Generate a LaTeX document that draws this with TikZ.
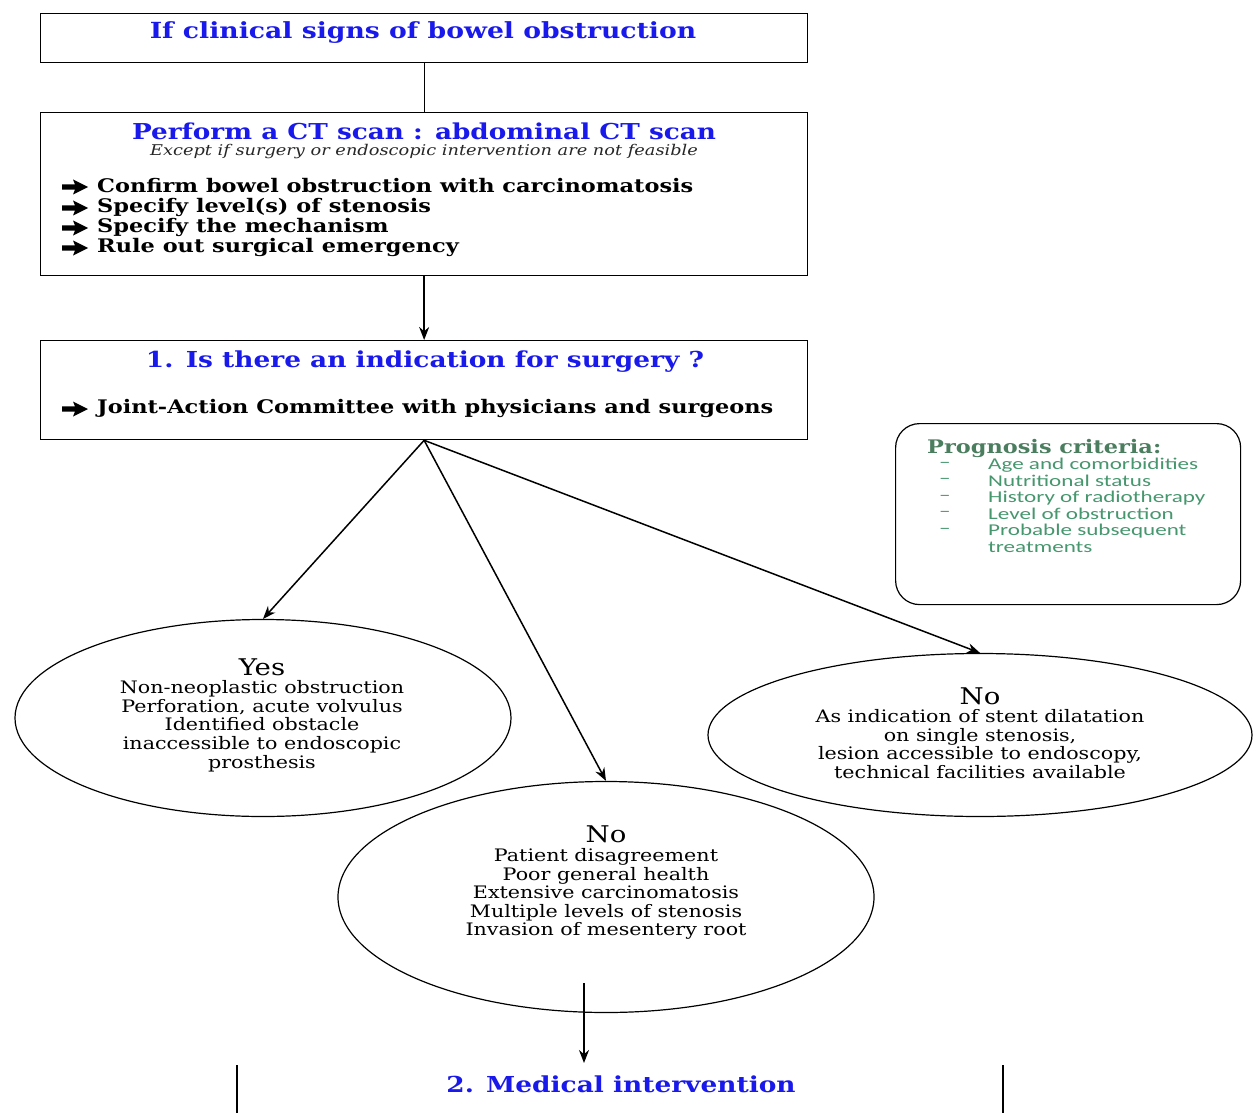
\documentclass[tikz,border=0pt]{standalone}
\usepackage{fontspec}
\setmainfont{DejaVu Serif}[FakeStretch=1.2]
\newfontfamily\critfont{Carlito}[FakeStretch=1.4]
\usetikzlibrary{shapes.geometric,arrows.meta}
\definecolor{titleblue}{RGB}{25,25,235}
\definecolor{critgreen}{RGB}{70,150,110}
\definecolor{critdark}{RGB}{75,125,95}
\newcommand\fsz[1]{\fontsize{#1}{#1}\selectfont}
\begin{document}
\begin{tikzpicture}[x=1pt,y=-1pt,
  framebox/.style={draw,line width=1.3pt,minimum width=767pt,anchor=north west,inner sep=0pt},
  oval/.style={draw,ellipse,line width=1.2pt,inner sep=0pt},
  heading/.style={text=titleblue,font=\bfseries\fsz{22}},
  item/.style={anchor=west,font=\bfseries\fsz{18.7},inner sep=0pt},
  ovaltext/.style={align=center,font=\fontsize{17.2}{18.6}\selectfont,inner sep=0pt},
  link/.style={line width=1.5pt,-{Stealth[length=13pt,width=10pt]}},
  plainlink/.style={line width=1.2pt},
  crit/.style={anchor=west,text=critgreen,font=\critfont\fsz{16.5},inner sep=0pt},
  bularrow/.pic={\fill (0,-2.6) -- (13,-2.6) -- (11,-7.5) -- (26,0) -- (11,7.5) -- (13,2.6) -- (0,2.6) -- cycle;}]
\useasboundingbox (0,0) rectangle (1255,1118);

% step 0: clinical signs
\node[framebox,minimum height=49pt] (signs) at (40,13) {};
\node[heading,font=\bfseries\fsz{22.2}] (signsT) at (423,33) {If clinical signs of bowel obstruction};

% step 1: CT scan
\node[framebox,minimum height=163pt] (ct) at (40,112) {};
\node[heading,font=\bfseries\fsz{21.9}] (ctT) at (424,131) {Perform a CT scan : abdominal CT scan};
\node[font=\itshape\fsz{14.8},text=black!85] (ctS) at (424,152) {Except if surgery or endoscopic intervention are not feasible};
\foreach \y/\t [count=\i] in {186/Confirm bowel obstruction with carcinomatosis,207/Specify level(s) of stenosis,227/Specify the mechanism,247/Rule out surgical emergency}{
  \pic at (62,\y+1) {bularrow};
  \node[item] (ct\i) at (97,\y) {\t};
}

% step 2: indication for surgery
\node[framebox,minimum height=99pt] (ind) at (40,340) {};
\node[heading] (indT) at (425,362) {1. Is there an indication for surgery ?};
\pic at (62,409) {bularrow};
\node[item] (ind1) at (97,408) {Joint-Action Committee with physicians and surgeons};

% prognosis criteria
\node[draw,line width=1.2pt,rounded corners=24pt,minimum width=345pt,minimum height=181pt,anchor=north west] (prog) at (895,423) {};
\node[anchor=west,inner sep=0pt,text=critdark,font=\bfseries\fsz{18.7}] (progT) at (927,448) {Prognosis criteria:};
\foreach \y/\t [count=\i] in {465/Age and comorbidities,481/Nutritional status,498/History of radiotherapy,514/Level of obstruction,531/Probable subsequent}{
  \node[crit] (pd\i) at (939,\y) {–};
  \node[crit] (pc\i) at (988,\y) {\t};
}
\node[crit] (pc6) at (988,547) {treatments};

% outcomes
\node[oval,minimum width=496pt,minimum height=197pt] (yes) at (263,718) {};
\node[ovaltext] (yesT) at (262,715) {{\fsz{23}Yes}\\Non-neoplastic obstruction\\Perforation, acute volvulus\\Identified obstacle\\inaccessible to endoscopic\\prosthesis};

\node[oval,minimum width=536pt,minimum height=231pt] (nomid) at (606,897) {};
\node[ovaltext] (nomidT) at (606,883) {{\fsz{23}No}\\Patient disagreement\\Poor general health\\Extensive carcinomatosis\\Multiple levels of stenosis\\Invasion of mesentery root};

\node[oval,minimum width=544pt,minimum height=163pt] (noright) at (980,735) {};
\node[ovaltext] (norightT) at (980,733) {{\fsz{23}No}\\As indication of stent dilatation\\on single stenosis,\\lesion accessible to endoscopy,\\technical facilities available};

% step 3: medical intervention
\node[text=titleblue,font=\bfseries\fsz{22}] (med) at (621,1084) {2. Medical intervention};
\coordinate (medIn) at (584,983);
\coordinate (medTop) at (584,1063);
\coordinate (lA) at (237,1065);
\coordinate (lB) at (237,1113);
\coordinate (rA) at (1003,1065);
\coordinate (rB) at (1003,1113);

% connectors
\draw[plainlink] (signs.south) -- (ct.north);
\draw[link] (ct.south) -- (ind.north);
\draw[link] (ind.south) -- (yes.north);
\draw[link] (ind.south) -- (nomid.north);
\draw[link] (ind.south) -- (noright.north);
\draw[link] (medIn) -- (medTop);
\draw[line width=2pt] (lA) -- (lB);
\draw[line width=2pt] (rA) -- (rB);
\end{tikzpicture}
\end{document}
